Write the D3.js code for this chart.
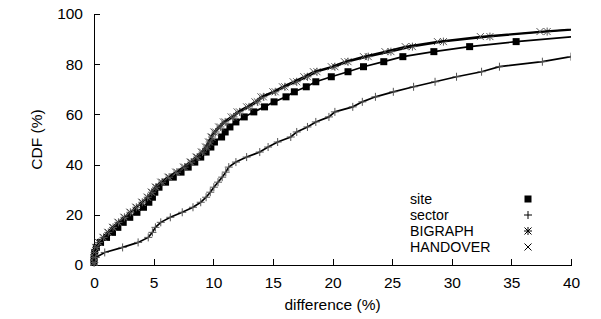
<!DOCTYPE html>
<html lang="en">
<head>
    <meta charset="UTF-8">
    <title>CDF of difference</title>
    <script src="https://d3js.org/d3.v7.min.js"></script>
    <style>
        body { margin: 0; background: #fff; }
        text { font-family: "Liberation Sans", Arial, sans-serif; font-size: 15.5px; fill: #000; }
        .axis line, .axis path { stroke: #000; stroke-width: 1; shape-rendering: crispEdges; }
        .curve { fill: none; stroke: #000; stroke-width: 1.7; }
    </style>
</head>
<body>
    <div id="chart"></div>

    <script>
        // CDF levels (%) at which each series was sampled
        const levels = [1, 3, 5, 7, 9, 11, 13, 15, 17, 19, 21, 23, 25, 27, 29, 31, 33, 35, 37, 39,
                        41, 43, 45, 47, 49, 51, 53, 55, 57, 59, 61, 63, 65, 67, 69, 71, 73, 75, 77, 79,
                        81, 83, 85, 87, 89, 91, 93, 95];

        // difference (%) reached at each level
        const site = [0, 0.01, 0.06, 0.2, 0.55, 1.05, 1.55, 2.0, 2.45, 3.0, 3.6, 4.15, 4.6, 4.9, 5.1, 5.45, 6.0, 6.65, 7.3, 7.9,
                      8.45, 8.95, 9.4, 9.8, 10.1, 10.7, 11.0, 11.4, 11.9, 12.6, 13.4, 14.3, 15.1, 16.1, 16.8, 17.8, 18.6, 19.9, 21.3, 22.6,
                      24.3, 25.9, 28.5, 31.5, 35.4, 40.3, 46, 52];
        const sector = [0.02, 0.15, 0.9, 2.4, 3.7, 4.55, 4.9, 5.15, 5.6, 6.4, 7.4, 8.3, 8.95, 9.4, 9.75, 10.05, 10.4, 10.75, 11.05, 11.3,
                        11.9, 12.8, 13.9, 14.6, 15.4, 16.5, 17.0, 17.9, 18.6, 19.7, 20.2, 21.7, 22.5, 23.6, 25.1, 26.8, 28.6, 30.4, 32.5, 34.0,
                        37.6, 40.0, 42.5, 46, 50, 55, 60, 66];
        const bigraph = [0, 0.01, 0.05, 0.17, 0.4, 0.8, 1.2, 1.6, 2.05, 2.55, 3.05, 3.55, 4.05, 4.5, 4.85, 5.2, 5.7, 6.3, 6.95, 7.6,
                         8.15, 8.65, 9.1, 9.45, 9.7, 9.9, 10.2, 10.6, 11.0, 11.7, 12.2, 13.0, 13.7, 14.2, 15.2, 16.0, 17.0, 17.9, 18.7, 20.2,
                         21.3, 23.0, 24.9, 26.7, 29.3, 33.2, 38.0, 44];
        const handover = [0, 0.01, 0.05, 0.16, 0.38, 0.75, 1.15, 1.55, 2.0, 2.5, 3.0, 3.5, 4.0, 4.45, 4.8, 5.15, 5.6, 6.2, 6.85, 7.5,
                          8.05, 8.55, 9.0, 9.35, 9.6, 9.8, 10.05, 10.45, 10.85, 11.5, 12.0, 12.8, 13.5, 14.0, 15.0, 15.8, 16.7, 17.6, 18.4, 19.9,
                          21.0, 22.6, 24.4, 26.1, 28.8, 32.4, 37.4, 43];

        const seriesNames = ["site", "sector", "BIGRAPH", "HANDOVER"];
        const seriesMarkers = ["square", "plus", "star", "cross"];
        const xTicks = [0, 5, 10, 15, 20, 25, 30, 35, 40];
        const yTicks = [0, 20, 40, 60, 80, 100];

        const width = 601, height = 319;
        const margin = { top: 14, right: 30, bottom: 54, left: 94 };

        const svg = d3.select('#chart').append('svg')
            .attr('width', width)
            .attr('height', height);

        const x = d3.scaleLinear().domain([0, 40]).range([margin.left, width - margin.right]);
        const y = d3.scaleLinear().domain([0, 100]).range([height - margin.bottom, margin.top]);

        svg.append('defs').append('clipPath').attr('id', 'plot-clip')
            .append('rect')
            .attr('x', x(0) - 4).attr('y', y(100) - 4)
            .attr('width', x(40) - x(0) + 4).attr('height', y(0) - y(100) + 8);

        // axes: only left and bottom, ticks pointing inward
        svg.append('g')
            .attr('class', 'axis')
            .attr('transform', `translate(0,${y(0)})`)
            .call(d3.axisBottom(x).tickValues(xTicks).tickSizeInner(-6).tickSizeOuter(0).tickPadding(12));

        svg.append('g')
            .attr('class', 'axis')
            .attr('transform', `translate(${x(0)},0)`)
            .call(d3.axisLeft(y).tickValues(yTicks).tickSizeInner(-6).tickSizeOuter(0).tickPadding(11));

        svg.selectAll('.axis text').style('font-size', '15.5px').attr('fill', '#000');

        svg.append('text')
            .attr('x', (x(0) + x(40)) / 2)
            .attr('y', 310)
            .attr('text-anchor', 'middle')
            .text('difference (%)');

        svg.append('text')
            .attr('transform', `translate(37,${(y(0) + y(100)) / 2}) rotate(-90)`)
            .attr('text-anchor', 'middle')
            .attr('dy', '0.35em')
            .text('CDF (%)');

        const markerPath = {
            plus: 'M-4,0H4M0,-4V4',
            cross: 'M-3.5,-3.5L3.5,3.5M-3.5,3.5L3.5,-3.5',
            star: 'M-4,0H4M0,-4V4M-3.5,-3.5L3.5,3.5M-3.5,3.5L3.5,-3.5'
        };

        function drawMarker(g, kind, px, py, color) {
            if (kind === 'square') {
                g.append('rect')
                    .attr('x', px - 3.5).attr('y', py - 3.5)
                    .attr('width', 7).attr('height', 7)
                    .attr('fill', '#000');
            } else {
                g.append('path')
                    .attr('transform', `translate(${px},${py})`)
                    .attr('d', markerPath[kind])
                    .attr('fill', 'none')
                    .attr('stroke', color)
                    .attr('stroke-width', 1);
            }
        }

        const allSeries = [site, sector, bigraph, handover];
        const plot = svg.append('g').attr('clip-path', 'url(#plot-clip)');

        const line = d3.line()
            .x(d => x(d[0]))
            .y(d => y(d[1]));

        allSeries.forEach((vals, i) => {
            const pts = vals.map((v, j) => [v, levels[j]]);
            plot.append('path')
                .attr('class', 'curve')
                .attr('d', line(pts));

            const mg = plot.append('g');
            pts.filter(p => p[0] <= 40).forEach(p => {
                drawMarker(mg, seriesMarkers[i], x(p[0]), y(p[1]), '#555');
            });
        });

        // legend: label + marker only
        const legend = svg.append('g');
        seriesNames.forEach((name, i) => {
            const ly = 199 + i * 16;
            legend.append('text')
                .attr('x', 410)
                .attr('y', ly)
                .attr('dy', '0.35em')
                .style('font-size', '14.2px')
                .text(name);
            drawMarker(legend, seriesMarkers[i], 528, ly, '#000');
        });
    </script>
</body>
</html>
